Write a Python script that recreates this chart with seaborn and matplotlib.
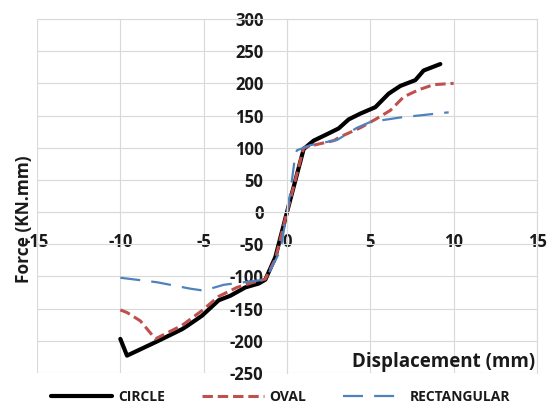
import matplotlib
matplotlib.use("Agg")
import matplotlib.pyplot as plt
import seaborn as sns

# --- data ---
circle_x = [-10, -9.6, -7.8, -6.3, -6.0, -5.1, -4.1, -3.4, -2.5, -1.7, -1.3, -0.7, 0.0,
            1.0, 1.6, 2.4, 3.1, 3.7, 4.4, 5.3, 6.1, 6.8, 7.7, 8.2, 9.2]
circle_y = [-197, -223, -201, -182, -177, -161, -137, -130, -117, -111, -105, -70, 0,
            98, 111, 121, 130, 144, 153, 163, 184, 196, 205, 220, 230]

oval_x = [-10, -9.6, -8.8, -7.9, -6.3, -5.1, -4.1, -3.0, -2.0, -1.3, -0.7, 0.0,
          1.0, 1.6, 2.8, 3.2, 4.4, 5.3, 6.2, 7.0, 7.9, 8.8, 10]
oval_y = [-152, -156, -169, -197, -176, -153, -131, -117, -109, -104, -73, 0,
          100, 104, 111, 117, 131, 144, 158, 179, 190, 198, 200]

rect_x = [-10, -7.8, -5.8, -5.0, -3.8, -2.6, -1.3, -0.4, 0.2, 0.5, 0.6,
          1.4, 3.0, 4.2, 5.0, 6.8, 9.7]
rect_y = [-102, -109, -119, -122, -113, -109, -105, -60, 30, 90, 96,
          104, 112, 131, 140, 147, 155]

x_ticks = [-15, -10, -5, 0, 5, 10, 15]
y_ticks = [-250, -200, -150, -100, -50, 0, 50, 100, 150, 200, 250, 300]

# --- style ---
sns.set_style("white")
plt.rcParams['font.family'] = ['Open Sans', 'DejaVu Sans']
plt.rcParams['font.weight'] = 'bold'
plt.rcParams['axes.unicode_minus'] = False
text_col = '#1a1a1a'
grid_col = '#d9d9d9'

fig = plt.figure(figsize=(5.51, 4.03), dpi=100)
ax = fig.add_axes([37 / 551, 1 - 373 / 403, 500 / 551, 354 / 403])

sns.lineplot(x=circle_x, y=circle_y, ax=ax, sort=False, estimator=None,
             color='black', linewidth=3, label='CIRCLE')
sns.lineplot(x=oval_x, y=oval_y, ax=ax, sort=False, estimator=None,
             color='#c0504d', linewidth=2.2, label='OVAL')
sns.lineplot(x=rect_x, y=rect_y, ax=ax, sort=False, estimator=None,
             color='#4f81bd', linewidth=1.6, label='RECTANGULAR')
ax.lines[1].set_dashes([3.4, 1.6])
ax.lines[2].set_dashes([9, 5])

ax.set_xlim(-15, 15)
ax.set_ylim(-250, 300)
ax.set_xticks(x_ticks)
ax.set_yticks(y_ticks)
ax.grid(True, color=grid_col, linewidth=0.8)
ax.set_axisbelow(True)

# axes cross at zero, Excel style
ax.spines['left'].set_position(('data', 0))
ax.spines['bottom'].set_position(('data', 0))
for s in ['left', 'bottom', 'top', 'right']:
    ax.spines[s].set_color(grid_col)
    ax.spines[s].set_linewidth(0.8)
ax.tick_params(axis='x', length=0, pad=15, labelsize=12, labelcolor=text_col)
ax.tick_params(axis='y', length=0, pad=17, labelsize=12, labelcolor=text_col)
for lab in ax.get_xticklabels() + ax.get_yticklabels():
    lab.set_fontweight('bold')

ax.set_xlabel('')
ax.set_ylabel('')
ax.text(0.996, 0.031, 'Displacement (mm)', transform=ax.transAxes, ha='right',
        va='center', fontsize=13.5, fontweight='bold', color=text_col)
fig.text(24 / 551, 1 - 219 / 403, 'Force (KN.mm)', rotation=90, ha='center',
         va='center', fontsize=12.5, fontweight='bold', color=text_col)

handles, labels = ax.get_legend_handles_labels()
ax.get_legend().remove()
fig.legend(handles, labels, loc='center', bbox_to_anchor=(281 / 551, 1 - 397 / 403),
           ncol=3, frameon=False, handlelength=4.4, handletextpad=0.4,
           columnspacing=2.7, labelcolor=text_col, prop={'weight': 'bold', 'size': 10})

fig.savefig('out.png', dpi=100)
